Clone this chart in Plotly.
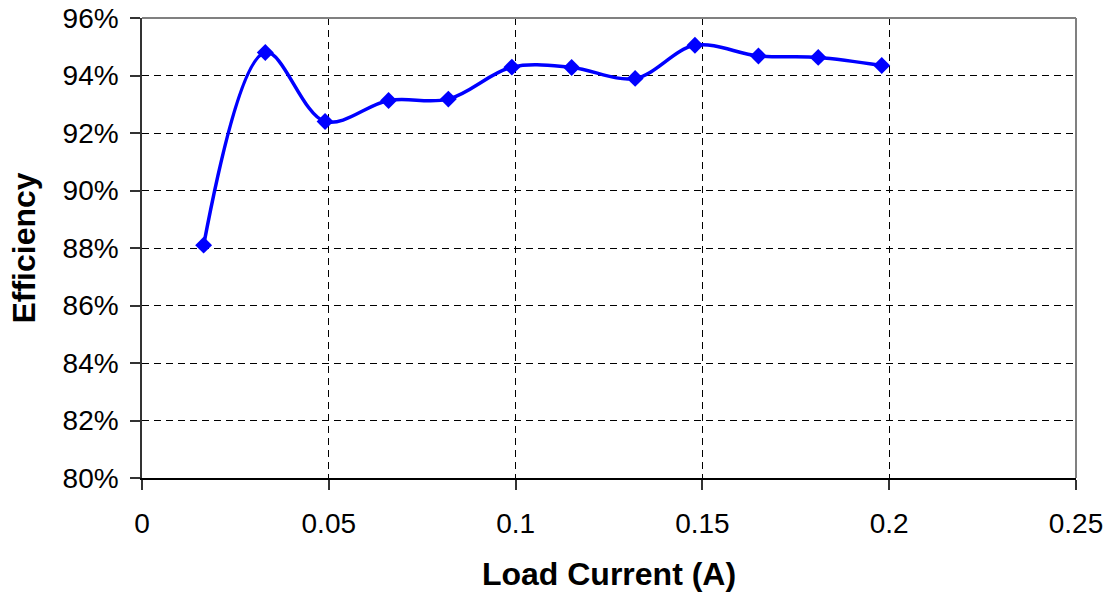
import plotly.graph_objects as go

load_current = [0.0165, 0.033, 0.049, 0.066, 0.082, 0.099, 0.115, 0.132, 0.148, 0.165, 0.181, 0.198]
efficiency = [0.881, 0.948, 0.924, 0.9313, 0.9318, 0.9429, 0.9428, 0.939, 0.9505, 0.9468, 0.9463, 0.9435]

x_ticks = [0, 0.05, 0.1, 0.15, 0.2, 0.25]
y_ticks = [0.80, 0.82, 0.84, 0.86, 0.88, 0.90, 0.92, 0.94, 0.96]

FONT = "Liberation Sans, Arial, sans-serif"

fig = go.Figure()
fig.add_trace(go.Scatter(
    x=load_current, y=efficiency,
    mode="lines+markers",
    line=dict(color="#0000FF", width=3.5, shape="spline", smoothing=1.0),
    marker=dict(symbol="diamond", size=13, color="#0000FF"),
    showlegend=False,
))

fig.update_layout(
    width=1114, height=594,
    margin=dict(l=142, r=38, t=18, b=116),
    paper_bgcolor="white", plot_bgcolor="white",
    font=dict(family=FONT, size=28, color="black"),
    xaxis=dict(
        range=[0, 0.25], tickvals=x_ticks, ticktext=[f"{v:g}" for v in x_ticks],
        showgrid=True, gridcolor="#000000", griddash="7px,5px", gridwidth=1,
        zeroline=False, showline=True, linecolor="#000000", linewidth=1.5,
        ticks="outside", ticklen=10, tickcolor="#333333", tickwidth=1.5,
        ticklabelstandoff=10,
        tickfont=dict(size=28),
        title=dict(text="<b>Load Current (A)</b>", font=dict(size=32), standoff=24),
        automargin=False,
    ),
    yaxis=dict(
        range=[0.80, 0.96], tickvals=y_ticks, tickformat=".0%",
        showgrid=True, gridcolor="#000000", griddash="7px,5px", gridwidth=1,
        zeroline=False, showline=True, linecolor="#333333", linewidth=1.5,
        ticks="outside", ticklen=10, tickcolor="#333333", tickwidth=1.5,
        ticklabelstandoff=6,
        tickfont=dict(size=28),
        title=dict(text="<b>Efficiency</b>", font=dict(size=32), standoff=17),
        automargin=False,
    ),
    shapes=[
        dict(type="line", xref="paper", yref="paper", x0=0, x1=1, y0=1, y1=1,
             line=dict(color="#808080", width=2), layer="above"),
        dict(type="line", xref="paper", yref="paper", x0=1, x1=1, y0=0, y1=1,
             line=dict(color="#808080", width=2), layer="above"),
    ],
)

fig.write_html("out.html", config={"displayModeBar": False},
               post_script="document.body.style.margin='0';")
